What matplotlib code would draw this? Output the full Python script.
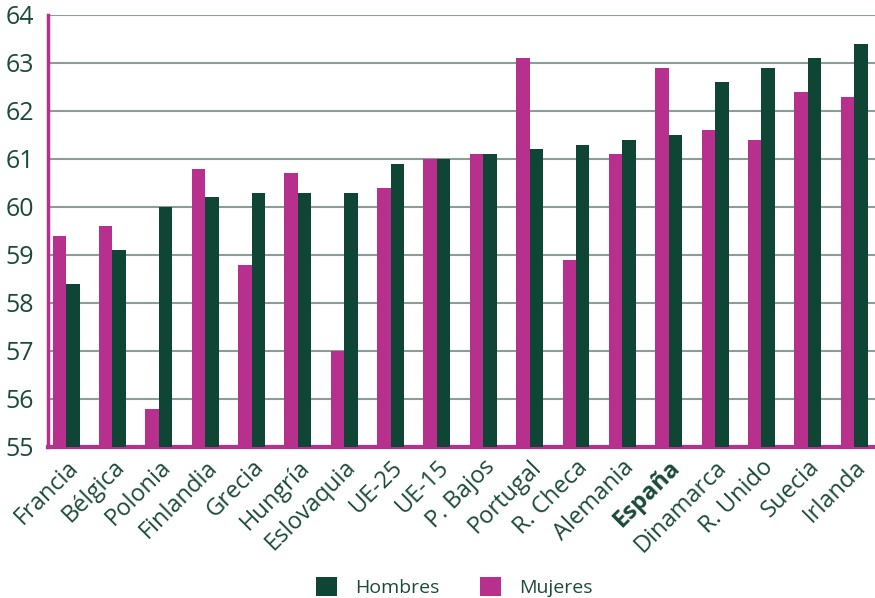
import matplotlib.pyplot as plt
import numpy as np

plt.rcParams['font.family'] = ['Open Sans', 'DejaVu Sans']

paises = ["Francia", "Bélgica", "Polonia", "Finlandia", "Grecia", "Hungría",
          "Eslovaquia", "UE-25", "UE-15", "P. Bajos", "Portugal", "R. Checa",
          "Alemania", "España", "Dinamarca", "R. Unido", "Suecia", "Irlanda"]
mujeres = [59.4, 59.6, 55.8, 60.8, 58.8, 60.7, 57.0, 60.4, 61.0, 61.1,
           63.1, 58.9, 61.1, 62.9, 61.6, 61.4, 62.4, 62.3]
hombres = [58.4, 59.1, 60.0, 60.2, 60.3, 60.3, 60.3, 60.9, 61.0, 61.1,
           61.2, 61.3, 61.4, 61.5, 62.6, 62.9, 63.1, 63.4]
yticks = [55, 56, 57, 58, 59, 60, 61, 62, 63, 64]

c_muj = "#B8308E"
c_hom = "#0F4535"
c_txt = "#1B4A3C"

fig = plt.figure(figsize=(8.75, 5.98), dpi=100)
ax = fig.add_axes([48 / 875, 151 / 598, 827 / 875, 432 / 598])

x = np.arange(len(paises))
w = 0.29
ax.bar(x - w / 2, mujeres, w, color=c_muj, label="Mujeres", zorder=3)
ax.bar(x + w / 2, hombres, w, color=c_hom, label="Hombres", zorder=3)

ax.set_ylim(55, 64)
ax.set_xlim(-0.39, 17.45)
ax.set_yticks(yticks)
ax.grid(axis="y", color="#8A9E96", linewidth=1.5, zorder=0)

ax.spines[['right', 'top']].set_visible(False)
ax.spines['left'].set_color(c_muj)
ax.spines['left'].set_linewidth(2.5)
ax.spines['bottom'].set_color(c_muj)
ax.spines['bottom'].set_linewidth(3)

ax.tick_params(axis="both", length=0, labelcolor=c_txt)
ax.tick_params(axis="y", pad=10, labelsize=18)
ax.tick_params(axis="x", pad=6, labelsize=17)
ax.set_xticks(x)
ax.set_xticklabels(paises, rotation=45, ha="right", rotation_mode="anchor")
for lbl in ax.get_xticklabels():
    if lbl.get_text() == "España":
        lbl.set_fontweight("bold")

handles, labels = ax.get_legend_handles_labels()
leg = fig.legend(handles[::-1], labels[::-1], loc="center",
                 bbox_to_anchor=(0.519, 0.018), ncol=2, frameon=False,
                 fontsize=14, handlelength=1.1, handleheight=1.1,
                 handletextpad=0.9, columnspacing=2.1)
for t in leg.get_texts():
    t.set_color(c_txt)

fig.savefig("out.png", dpi=100)
